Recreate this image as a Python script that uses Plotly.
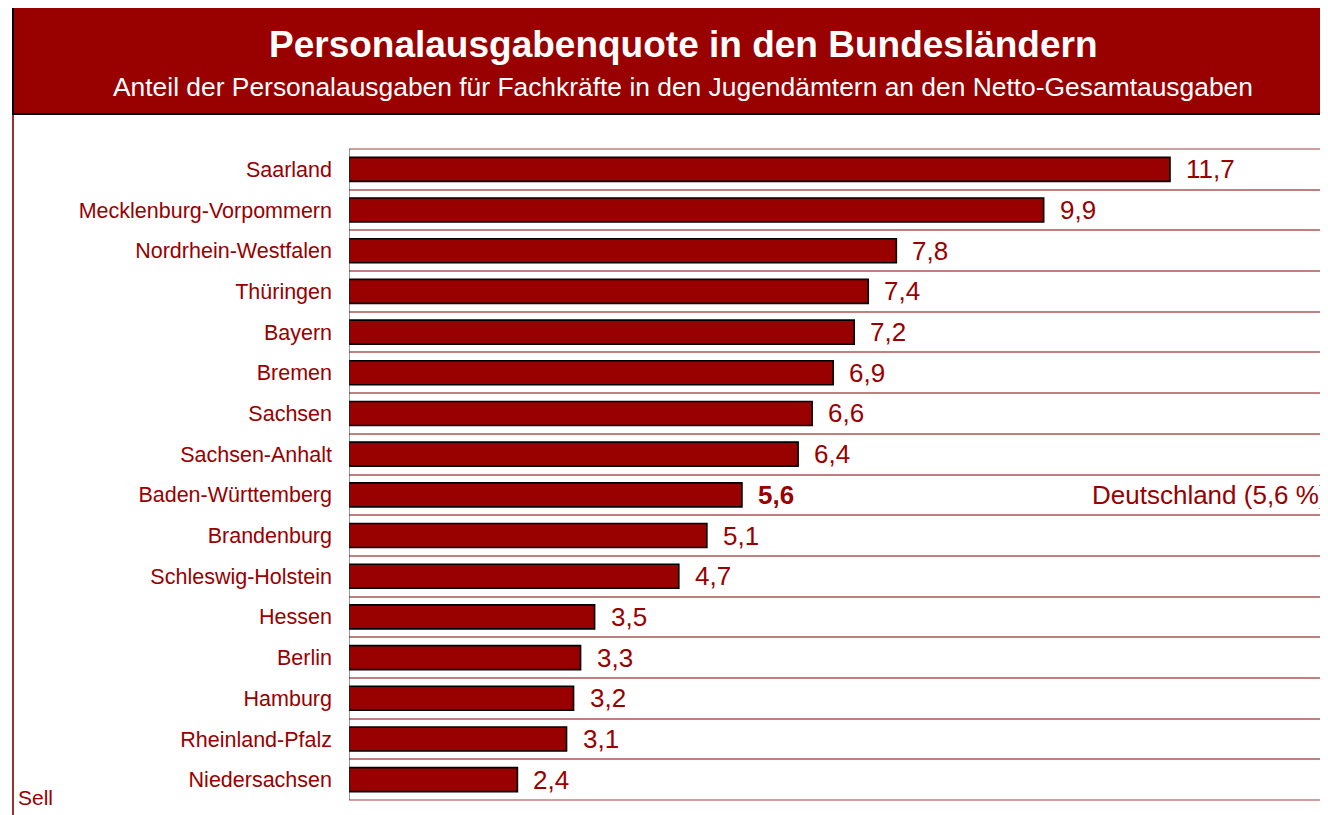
import plotly.graph_objects as go

# ---- data ----
laender = ["Saarland", "Mecklenburg-Vorpommern", "Nordrhein-Westfalen", "Thüringen", "Bayern",
           "Bremen", "Sachsen", "Sachsen-Anhalt", "Baden-Württemberg", "Brandenburg",
           "Schleswig-Holstein", "Hessen", "Berlin", "Hamburg", "Rheinland-Pfalz", "Niedersachsen"]
quote = [11.7, 9.9, 7.8, 7.4, 7.2, 6.9, 6.6, 6.4, 5.6, 5.1, 4.7, 3.5, 3.3, 3.2, 3.1, 2.4]
deutschland = 5.6
deutschland_row = "Baden-Württemberg"

title = "Personalausgabenquote in den Bundesländern"
subtitle = "Anteil der Personalausgaben für Fachkräfte in den Jugendämtern an den Netto-Gesamtausgaben"
source = "Sell"

OFF = 8  # page offset of the figure (body margin)
W, H = 1328 - OFF, 815 - OFF
ML, MR, MT, MB = 349 - OFF, 0, 149 - OFF, 815 - 800
PW, PH = W - ML - MR, H - MT - MB
RED = "#990000"
GRID = "#c08080"
FONT = "Liberation Sans, Arial, sans-serif"


def px(x):  # page pixel -> paper
    return (x - OFF - ML) / PW


def py(y):
    return (H - MB - (y - OFF)) / PH


def fmt(v):
    return f"{v:.1f}".replace(".", ",")


fig = go.Figure()
fig.add_trace(go.Bar(
    x=quote, y=laender, orientation="h",
    marker=dict(color=RED, line=dict(color="#000000", width=1.6)),
    hoverinfo="skip",
))

annotations = []
for name, v in zip(laender, quote):
    txt = fmt(v)
    if name == deutschland_row:
        txt = f"<b>{txt}</b>"
    annotations.append(dict(x=v, y=name, xref="x", yref="y", text=txt, showarrow=False,
                            xanchor="left", yanchor="middle", xshift=14,
                            font=dict(family=FONT, size=26, color=RED)))

annotations.append(dict(x=1, y=deutschland_row, xref="paper", yref="y",
                        text=f"Deutschland ({fmt(deutschland)} %)", showarrow=False,
                        xanchor="right", yanchor="middle", xshift=2,
                        font=dict(family=FONT, size=26, color=RED)))

annotations.append(dict(x=px(683), y=py(45), xref="paper", yref="paper", text=f"<b>{title}</b>",
                        showarrow=False, xanchor="center", yanchor="middle",
                        font=dict(family=FONT, size=37, color="white")))
annotations.append(dict(x=px(683), y=py(87), xref="paper", yref="paper", text=subtitle,
                        showarrow=False, xanchor="center", yanchor="middle",
                        font=dict(family=FONT, size=26.4, color="white")))
annotations.append(dict(x=px(16), y=py(797), xref="paper", yref="paper", text=source,
                        showarrow=False, xanchor="left", yanchor="middle",
                        font=dict(family=FONT, size=21, color=RED)))

shapes = [
    # outer frame
    dict(type="line", xref="paper", yref="paper", x0=px(13), x1=px(13), y0=py(7), y1=py(830),
         line=dict(color="#a03030", width=2)),
    # title banner
    dict(type="rect", xref="paper", yref="paper", x0=px(13), x1=px(1326), y0=py(114), y1=py(7),
         fillcolor=RED, line=dict(color="#000000", width=2)),
    # top and bottom boundary gridlines
    dict(type="line", xref="paper", yref="paper", x0=0, x1=1, y0=1, y1=1,
         line=dict(color=GRID, width=1.5)),
    dict(type="line", xref="paper", yref="paper", x0=0, x1=1, y0=0, y1=0,
         line=dict(color=GRID, width=1.5)),
]

fig.update_layout(
    width=W, height=H,
    margin=dict(l=ML, r=MR, t=MT, b=MB, pad=0),
    paper_bgcolor="white", plot_bgcolor="white",
    showlegend=False,
    bargap=0.41,
    separators=",.",
    font=dict(family=FONT, color=RED),
    annotations=annotations,
    shapes=shapes,
    xaxis=dict(range=[0, PW / 70.17], showgrid=False, zeroline=False, showticklabels=False,
               showline=False, fixedrange=True),
    yaxis=dict(categoryorder="array", categoryarray=laender[::-1], type="category",
               tickson="boundaries", showgrid=True, gridcolor=GRID, gridwidth=1.5,
               ticks="", ticklabelstandoff=16,
               tickfont=dict(family=FONT, size=21.5, color=RED),
               showline=False, zeroline=False, range=[-0.5, len(laender) - 0.5]),
)
fig.add_shape(type="line", xref="x", yref="paper", x0=0, x1=0, y0=0, y1=1,
              line=dict(color="#333333", width=1))

fig.write_html("out.html")
